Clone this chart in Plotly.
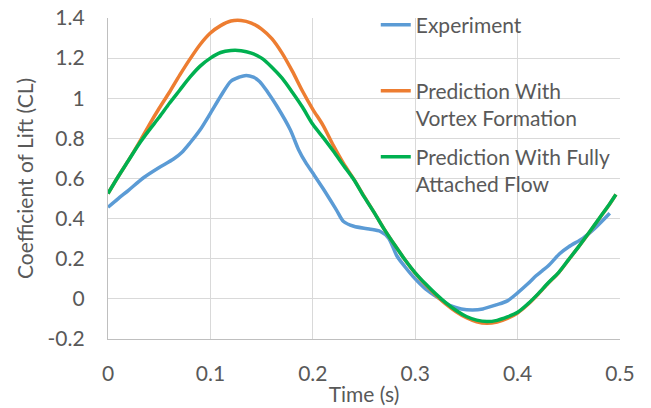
import plotly.graph_objects as go

# Experiment
t_exp = [0, 0.01, 0.02, 0.035, 0.05, 0.064, 0.072, 0.08, 0.09, 0.1, 0.11, 0.12, 0.128,
         0.135, 0.142, 0.148, 0.156, 0.165, 0.178, 0.186, 0.193, 0.2, 0.21, 0.223, 0.23,
         0.24, 0.255, 0.266, 0.274, 0.282, 0.29, 0.298, 0.31, 0.324, 0.335, 0.345, 0.356,
         0.366, 0.379, 0.39, 0.4, 0.41, 0.418, 0.424, 0.43, 0.441, 0.45, 0.464, 0.475, 0.49]
cl_exp = [0.457, 0.5, 0.541, 0.605, 0.655, 0.697, 0.73, 0.777, 0.843, 0.925, 1.01, 1.085, 1.105,
          1.114, 1.105, 1.084, 1.03, 0.96, 0.843, 0.745, 0.68, 0.627, 0.55, 0.444, 0.386,
          0.362, 0.348, 0.336, 0.303, 0.215, 0.16, 0.111, 0.05, 0.0, -0.035, -0.05, -0.055,
          -0.05, -0.03, -0.01, 0.03, 0.075, 0.115, 0.14, 0.165, 0.225, 0.26, 0.303, 0.35, 0.427]

# Predictions
t_pred = [0, 0.01, 0.02, 0.03, 0.04, 0.05, 0.06, 0.07, 0.08, 0.09, 0.1, 0.11, 0.12, 0.13,
          0.14, 0.15, 0.16, 0.17, 0.18, 0.19, 0.2, 0.21, 0.22, 0.23, 0.24, 0.25, 0.26, 0.27,
          0.28, 0.29, 0.3, 0.31, 0.32, 0.33, 0.34, 0.35, 0.36, 0.37, 0.38, 0.39, 0.4, 0.41,
          0.42, 0.43, 0.44, 0.45, 0.46, 0.47, 0.48, 0.49, 0.496]
cl_vortex = [0.525, 0.61, 0.69, 0.775, 0.865, 0.95, 1.03, 1.115, 1.195, 1.268, 1.325, 1.362,
             1.385, 1.388, 1.375, 1.345, 1.297, 1.225, 1.135, 1.035, 0.945, 0.865, 0.765, 0.675,
             0.597, 0.512, 0.43, 0.345, 0.268, 0.195, 0.128, 0.071, 0.02, -0.026, -0.064, -0.094,
             -0.114, -0.122, -0.115, -0.097, -0.07, -0.028, 0.023, 0.079, 0.13, 0.196, 0.262,
             0.331, 0.402, 0.473, 0.52]
cl_attached = [0.525, 0.61, 0.69, 0.77, 0.84, 0.905, 0.975, 1.04, 1.105, 1.16, 1.2, 1.228,
               1.238, 1.237, 1.225, 1.2, 1.155, 1.1, 1.03, 0.955, 0.87, 0.805, 0.737, 0.665,
               0.595, 0.51, 0.43, 0.345, 0.268, 0.195, 0.13, 0.075, 0.025, -0.02, -0.058, -0.088,
               -0.106, -0.113, -0.107, -0.09, -0.067, -0.025, 0.025, 0.08, 0.131, 0.197, 0.263,
               0.332, 0.403, 0.474, 0.52]

names = ["Experiment", "Prediction With<br>Vortex Formation", "Prediction With Fully<br>Attached Flow"]
colors = ["#5B9BD5", "#ED7D31", "#00B050"]
x_ticks = [0, 0.1, 0.2, 0.3, 0.4, 0.5]
x_labels = ["0", "0.1", "0.2", "0.3", "0.4", "0.5"]
y_ticks = [-0.2, 0, 0.2, 0.4, 0.6, 0.8, 1.0, 1.2, 1.4]
y_labels = ["-0.2", "0", "0.2", "0.4", "0.6", "0.8", "1", "1.2", "1.4"]

FONT = "Lato, Calibri, sans-serif"
TXT = "#595959"
FS = 21

fig = go.Figure()
fig.add_trace(go.Scatter(x=t_exp, y=cl_exp, mode="lines", name=names[0],
                         line=dict(color=colors[0], width=3.5, shape="spline", smoothing=0.8),
                         legend="legend", showlegend=True))
fig.add_trace(go.Scatter(x=t_pred, y=cl_vortex, mode="lines", name=names[1],
                         line=dict(color=colors[1], width=3.5, shape="spline", smoothing=0.8),
                         legend="legend2", showlegend=True))
fig.add_trace(go.Scatter(x=t_pred, y=cl_attached, mode="lines", name=names[2],
                         line=dict(color=colors[2], width=3.5, shape="spline", smoothing=0.8),
                         legend="legend3", showlegend=True))

leg_common = dict(xanchor="left", yanchor="top", valign="top", bgcolor="rgba(0,0,0,0)",
                  font=dict(family=FONT, size=FS, color=TXT), borderwidth=0)
fig.update_layout(
    width=651, height=408,
    margin=dict(l=108, r=30.5, t=18.3, b=68.7, autoexpand=False),
    paper_bgcolor="white", plot_bgcolor="white",
    font=dict(family=FONT, size=FS, color=TXT),
    showlegend=True,
    legend=dict(x=0.523, y=1.0414, **leg_common),
    legend2=dict(x=0.523, y=0.8358, **leg_common),
    legend3=dict(x=0.523, y=0.6302, **leg_common),
    xaxis=dict(range=[0, 0.5], tickvals=x_ticks, ticktext=x_labels, automargin=False,
               showgrid=True, gridcolor="#D9D9D9", gridwidth=1.3,
               showline=True, linecolor="#BFBFBF", linewidth=1.3,
               zeroline=False, ticks="", ticklabelstandoff=16,
               tickfont=dict(family=FONT, size=FS, color=TXT),
               title=dict(text="Time (s)", standoff=2,
                          font=dict(family=FONT, size=FS, color=TXT))),
    yaxis=dict(range=[-0.2, 1.4], tickvals=y_ticks, ticktext=y_labels, automargin=False,
               showgrid=True, gridcolor="#D9D9D9", gridwidth=1.3,
               showline=True, linecolor="#BFBFBF", linewidth=1.3,
               zeroline=False, ticks="", ticklabelstandoff=18,
               tickfont=dict(family=FONT, size=FS, color=TXT),
               title=dict(text="Coefficient of Lift (CL)", standoff=8,
                          font=dict(family=FONT, size=FS, color=TXT))),
)

fig.write_html("out.html")
